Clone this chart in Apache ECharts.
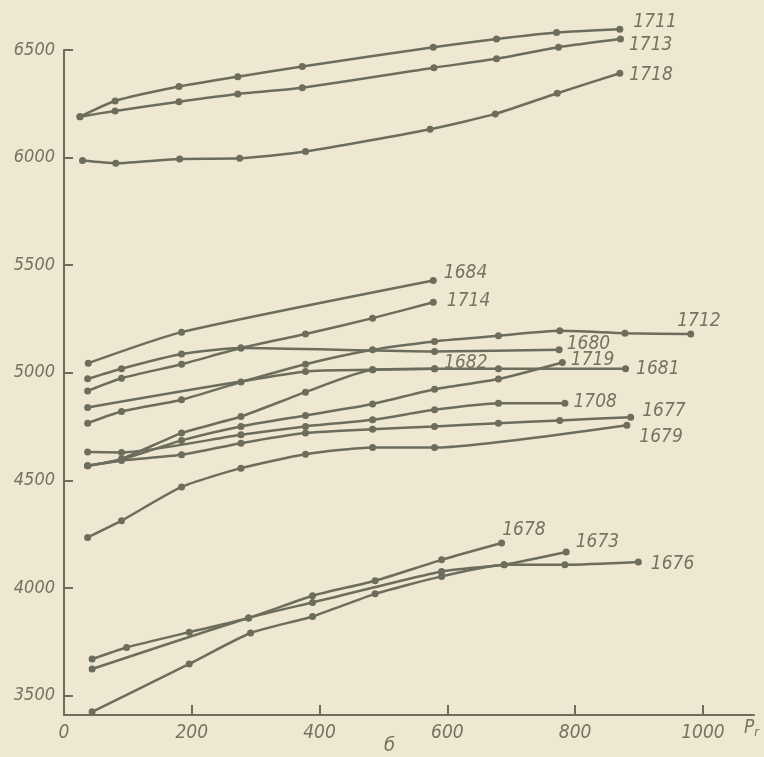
<!DOCTYPE html>
<html>
<head>
<meta charset="utf-8">
<script src="https://cdn.jsdelivr.net/npm/echarts/dist/echarts.min.js"></script>
<style>
html,body{margin:0;padding:0;background:#eee7d1;}
#chart{width:764px;height:757px;}
</style>
</head>
<body>
<div id="chart"></div>
<script>
// x: pressure, y: value
const seriesNames = ['1711','1713','1718','1684','1714','1712','1680','1682','1719','1681','1708','1677','1679','1678','1673','1676'];
const p1711 = [[25,6190],[80,6263],[180,6330],[272,6376],[373,6423],[578,6513],[677,6551],[771,6581],[870,6596]];
const p1713 = [[25,6190],[80,6217],[180,6260],[272,6296],[373,6325],[579,6418],[677,6459],[774,6513],[871,6551]];
const p1718 = [[29,5986],[81,5974],[181,5994],[275,5997],[378,6028],[573,6132],[675,6203],[772,6299],[870,6392]];
const p1684 = [[38,5045],[184,5189],[578,5429]];
const p1714 = [[37,4916],[90,4975],[184,5040],[277,5115],[378,5180],[483,5254],[578,5328]];
const p1712 = [[37,4766],[90,4820],[184,4875],[277,4957],[378,5040],[483,5107],[580,5146],[680,5172],[776,5195],[878,5184],[981,5180]];
const p1680 = [[37,4972],[90,5019],[184,5087],[277,5115],[580,5099],[775,5107]];
const p1682 = [[37,4568],[90,4600],[184,4720],[277,4797],[378,4910],[483,5014],[580,5019]];
const p1719 = [[37,4568],[90,4596],[184,4686],[277,4751],[378,4802],[483,4855],[580,4924],[680,4971],[780,5048]];
const p1681 = [[37,4839],[378,5006],[483,5014],[580,5019],[680,5019],[879,5019]];
const p1708 = [[37,4632],[90,4630],[277,4712],[378,4751],[483,4782],[580,4828],[680,4859],[784,4859]];
const p1677 = [[37,4568],[90,4593],[184,4619],[277,4673],[378,4720],[483,4738],[580,4751],[680,4766],[776,4779],[887,4794]];
const p1679 = [[37,4235],[90,4313],[184,4470],[277,4557],[378,4622],[483,4653],[580,4653],[881,4756]];
const p1678 = [[44,3670],[98,3724],[196,3795],[289,3861],[389,3964],[487,4034],[591,4131],[685,4209]];
const p1673 = [[44,3624],[289,3861],[389,3933],[591,4077],[689,4108],[786,4167]];
const p1676 = [[44,3425],[196,3647],[292,3791],[389,3868],[487,3973],[591,4054],[689,4108],[784,4108],[899,4121]];
const xTicks = [0,200,400,600,800,1000];
const yTicks = [3500,4000,4500,5000,5500,6000,6500];

const seriesData = [p1711,p1713,p1718,p1684,p1714,p1712,p1680,p1682,p1719,p1681,p1708,p1677,p1679,p1678,p1673,p1676];
// label offsets relative to last point
const labelOffsets = {
  '1711':[10,-7],'1713':[5,6],'1718':[6,2],'1684':[7,-7],'1714':[10,-1],
  '1712':[-17,-13],'1680':[4,-6],'1719':[5,-2],'1682':[6,-6],'1681':[7,0],
  '1708':[5,-1],'1677':[8,-6],'1679':[9,12],'1678':[-3,-13],'1673':[6,-10],'1676':[9,2]
};

const LINE = '#6c6d5d';
const TXT = '#75735f';
const FONT = '"Liberation Sans Narrow", "DejaVu Sans Condensed", sans-serif';

const series = seriesNames.map((name, i) => {
  const pts = seriesData[i];
  const data = pts.map((p, j) => {
    if (j === pts.length - 1) {
      return {
        value: p,
        label: {
          show: true, position: 'right', distance: 0,
          offset: labelOffsets[name],
          formatter: name,
          color: TXT, fontFamily: FONT, fontStyle: 'italic', fontSize: 19
        }
      };
    }
    return p;
  });
  return {
    name: name,
    type: 'line',
    data: data,
    smooth: 0.2,
    clip: false,
    symbol: 'circle',
    symbolSize: 7,
    lineStyle: {color: LINE, width: 2.5},
    itemStyle: {color: LINE},
    emphasis: {disabled: true},
    z: 3
  };
});

const chart = echarts.init(document.getElementById('chart'), null, {renderer: 'canvas'});
chart.setOption({
  backgroundColor: '#eee7d1',
  animation: false,
  title: {
    text: 'б', left: 384, top: 736, padding: 0,
    textStyle: {color: TXT, fontFamily: FONT, fontStyle: 'italic', fontWeight: 'normal', fontSize: 20}
  },
  grid: {left: 64, right: 10, top: 50, bottom: 42, containLabel: false},
  xAxis: {
    type: 'value', min: 0, max: 1080,
    name: '{p|P}{s|r}', nameLocation: 'end', nameGap: -10,
    nameTextStyle: {
      align: 'left', verticalAlign: 'top', padding: [3,0,0,0],
      rich: {
        p: {color: TXT, fontFamily: FONT, fontStyle: 'italic', fontSize: 19},
        s: {color: TXT, fontFamily: FONT, fontStyle: 'italic', fontSize: 13, padding: [8,0,0,0]}
      }
    },
    axisLine: {show: true, lineStyle: {color: LINE, width: 2}},
    axisTick: {show: true, inside: true, length: 10, customValues: xTicks, lineStyle: {color: LINE, width: 2}},
    axisLabel: {customValues: xTicks, margin: 9, formatter: v => String(v), color: TXT, fontFamily: FONT, fontStyle: 'italic', fontSize: 19},
    splitLine: {show: false}
  },
  yAxis: {
    type: 'value', min: 3410, max: 6500,
    axisLine: {show: true, lineStyle: {color: LINE, width: 2}},
    axisTick: {show: true, inside: true, length: 9, customValues: yTicks, lineStyle: {color: LINE, width: 2}},
    axisLabel: {customValues: yTicks, margin: 9, formatter: v => String(v), color: TXT, fontFamily: FONT, fontStyle: 'italic', fontSize: 18},
    splitLine: {show: false}
  },
  series: series
});
</script>
</body>
</html>
